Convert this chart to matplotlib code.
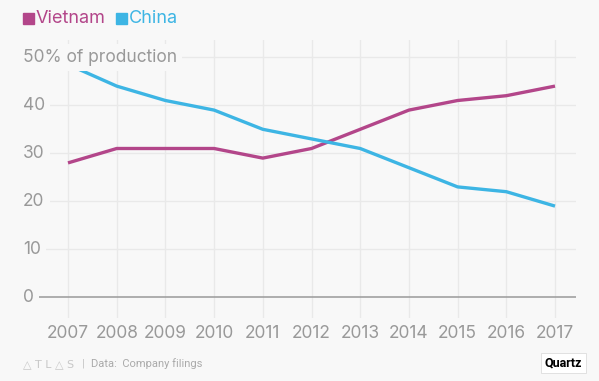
import matplotlib
matplotlib.use("Agg")
import matplotlib.pyplot as plt
from matplotlib.patches import Rectangle

years = [2007, 2008, 2009, 2010, 2011, 2012, 2013, 2014, 2015, 2016, 2017]
vietnam = [28, 31, 31, 31, 29, 31, 35, 39, 41, 42, 44]
china = [48.5, 44, 41, 39, 35, 33, 31, 27, 23, 22, 19]
yticks = [0, 10, 20, 30, 40, 50]
ytick_labels = ["0", "10", "20", "30", "40", "50% of production"]
series_names = ["Vietnam", "China"]

W, H = 599, 381
BG = "#f8f8f8"
VC = "#b3468a"
CC = "#3db5e4"
GRID = "#e9e9e9"
TXT = "#999999"
FONT = "Inter"

fig = plt.figure(figsize=(W / 100, H / 100), dpi=100, facecolor=BG)
# axes spanning px x 23..576, y 40..318
ax = fig.add_axes([23 / W, 1 - 318 / H, (576 - 23) / W, (318 - 40) / H], facecolor=BG)

px_per_year = (555 - 68) / 10
ax.set_xlim(2007 - (68 - 23) / px_per_year, 2017 + (576 - 555) / px_per_year)
px_per_unit = (297.3 - 105.3) / 40
ax.set_ylim(-(318 - 297.3) / px_per_unit, (297.3 - 40) / px_per_unit)

for s in ax.spines.values():
    s.set_visible(False)
ax.set_xticks([])
ax.set_yticks([])

for y in yticks[1:]:
    ax.axhline(y, color=GRID, lw=1, zorder=1)
for x in years:
    ax.axvline(x, color=GRID, lw=1, zorder=1)
ax.axhline(0, color="#9a9a9a", lw=1.1, zorder=2)

ax.plot(years, vietnam, color=VC, lw=2.4, zorder=3, solid_capstyle="butt")
ax.plot(years, china, color=CC, lw=2.4, zorder=3, solid_capstyle="butt")

xmin = ax.get_xlim()[0]
for y, lab in zip(yticks, ytick_labels):
    ax.text(xmin, y, lab, ha="left", va="center", fontsize=12.5, color=TXT,
            family=FONT, zorder=5,
            bbox=dict(boxstyle="square,pad=0.3", fc=BG, ec="none"))

for x in years:
    ax.text(x, -(333 - 297.3) / px_per_unit, str(x), ha="center", va="center",
            fontsize=12.5, color=TXT, family=FONT, clip_on=False)

# legend
colors = [VC, CC]
xpos = [23, 116]
for name, c, xp in zip(series_names, colors, xpos):
    fig.patches.append(Rectangle((xp / W, 1 - 24 / H), 11 / W, 11 / H,
                                 transform=fig.transFigure, color=c))
    fig.text((xp + 13) / W, 1 - 18.5 / H, name, ha="left", va="center",
             fontsize=13, color=c, family=FONT)

# footer
fig.text(23 / W, 1 - 364 / H, "\u25B3 T L \u25B3 S", ha="left", va="center",
         fontsize=8, color="#c8c8c8", family="DejaVu Sans")
fig.text(82 / W, 1 - 364 / H, "|", ha="left", va="center",
         fontsize=8, color="#c0c0c0", family="Roboto")
fig.text(91 / W, 1 - 364 / H, "Data:  Company filings", ha="left", va="center",
         fontsize=8, color="#aaaaaa", family="Roboto")
fig.text(582 / W, 1 - 363 / H, "Quartz", ha="right", va="center",
         fontsize=9, color="black", family="Roboto", weight="bold",
         bbox=dict(boxstyle="square,pad=0.3", fc="white", ec="#dddddd", lw=0.6))

fig.savefig("out.png", dpi=100, facecolor=BG)
